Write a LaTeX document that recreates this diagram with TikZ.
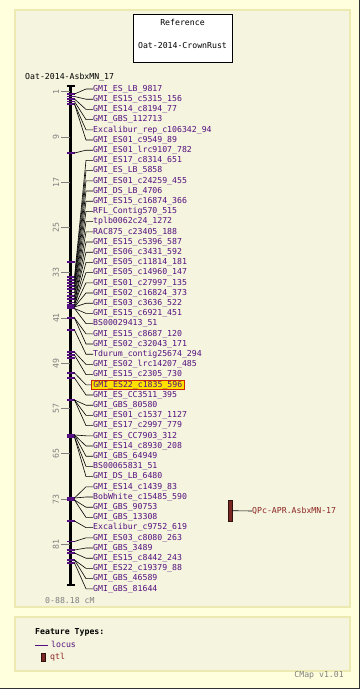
\documentclass[tikz,border=0pt]{standalone}
\usepackage{fontspec}
\setmonofont{DejaVu Sans Mono}
\usepackage{xcolor}
\usepackage{tikz}
\usetikzlibrary{positioning}

\definecolor{pageyellow}{RGB}{255,255,221}
\definecolor{panelbeige}{RGB}{245,244,222}
\definecolor{panelline}{RGB}{236,234,176}
\definecolor{locuscol}{RGB}{84,16,128}
\definecolor{qtlcol}{RGB}{122,40,36}
\definecolor{qtltext}{RGB}{140,36,36}
\definecolor{scalegray}{RGB}{128,128,128}
\definecolor{hilite}{RGB}{255,226,0}
\definecolor{hiliteline}{RGB}{204,40,0}

\newcommand{\mapfont}{\ttfamily\fontsize{8.2}{9}\selectfont}

\begin{document}
\begin{tikzpicture}[x=1pt, y=-1pt, font=\mapfont,
    panel/.style={draw=panelline, line width=1.2pt, fill=panelbeige},
    txt/.style={inner sep=0pt, text height=6pt, text depth=1.5pt},
    lab/.style={txt, anchor=west, text=locuscol},
    hl/.style={draw=hiliteline, fill=hilite, line width=0.8pt, inner xsep=2pt, inner ysep=1pt, xshift=-2pt},
    conn/.style={draw=black, line width=0.6pt},
    mk/.style={draw=locuscol, line width=1.2pt},
    scaletick/.style={draw=scalegray, line width=0.8pt},
    scalelab/.style={text=scalegray, rotate=90, anchor=south, inner sep=1.5pt},
    qtlbar/.style={draw=black!60!qtlcol, fill=qtlcol, line width=0.6pt, minimum width=3.5pt, minimum height=21pt, inner sep=0pt}]
    \useasboundingbox (0,0) rectangle (360,689);

    % Panels
    \fill[pageyellow] (0,0) rectangle (360,689);
    \draw[black!80, line width=1.5pt] (0,688.25) -- (359.25,688.25) -- (359.25,0);
    \draw[panel] (15,10) rectangle (350,607);
    \draw[panel] (15,617) rectangle (350,671);

    % Reference box
    \node[draw=black, fill=white, line width=0.8pt, minimum width=99pt, minimum height=48pt] (refbox) at (182.5,38) {};
    \node[txt] (reftitle) at (182.5,23) {Reference};
    \node[txt] (refmap) at (182.5,46) {Oat-2014-CrownRust};
    \node[txt, anchor=west] (maptitle) at (25,77) {Oat-2014-AsbxMN\_17};

    % Axis and scale
    \draw[black, line width=2.4pt] (70.5,86) -- (70.5,585);
    \draw[black, line width=1.2pt] (66.5,86) -- (74.5,86);
    \draw[black, line width=1.2pt] (66.5,585) -- (74.5,585);
    \draw[scaletick] (69.5,91.7) -- (61,91.7) node[scalelab] {1};
    \draw[scaletick] (69.5,136.9) -- (61,136.9) node[scalelab] {9};
    \draw[scaletick] (69.5,182.2) -- (61,182.2) node[scalelab] {17};
    \draw[scaletick] (69.5,227.5) -- (61,227.5) node[scalelab] {25};
    \draw[scaletick] (69.5,272.7) -- (61,272.7) node[scalelab] {33};
    \draw[scaletick] (69.5,318.0) -- (61,318.0) node[scalelab] {41};
    \draw[scaletick] (69.5,363.3) -- (61,363.3) node[scalelab] {49};
    \draw[scaletick] (69.5,408.6) -- (61,408.6) node[scalelab] {57};
    \draw[scaletick] (69.5,453.8) -- (61,453.8) node[scalelab] {65};
    \draw[scaletick] (69.5,499.1) -- (61,499.1) node[scalelab] {73};
    \draw[scaletick] (69.5,544.4) -- (61,544.4) node[scalelab] {81};
    \node[txt, anchor=west, text=scalegray] (range) at (45,601) {0-88.18 cM};

    % Loci on the axis
    \coordinate (mA) at (74.5,94);
    \coordinate (mB) at (74.5,96.5);
    \coordinate (mC) at (74.5,99);
    \coordinate (mD) at (74.5,101.5);
    \coordinate (mE) at (74.5,104);
    \coordinate (mF) at (74.5,153);
    \coordinate (mG) at (74.5,262);
    \coordinate (mH) at (74.5,277);
    \coordinate (mI) at (74.5,280);
    \coordinate (mJ) at (74.5,283);
    \coordinate (mK) at (74.5,286);
    \coordinate (mL) at (74.5,289);
    \coordinate (mM) at (74.5,292.5);
    \coordinate (mN) at (74.5,296);
    \coordinate (mO) at (74.5,299);
    \coordinate (mP) at (74.5,302.5);
    \coordinate (mQ) at (74.5,305);
    \coordinate (mR) at (74.5,307);
    \coordinate (mS) at (74.5,308.5);
    \coordinate (mT) at (74.5,318);
    \coordinate (mU) at (74.5,330);
    \coordinate (mV) at (74.5,352);
    \coordinate (mW) at (74.5,355);
    \coordinate (mX) at (74.5,358);
    \coordinate (mY) at (74.5,373);
    \coordinate (mZ) at (74.5,378);
    \coordinate (na) at (74.5,400);
    \coordinate (nb) at (74.5,435);
    \coordinate (nc) at (74.5,437);
    \coordinate (nd) at (74.5,498);
    \coordinate (ne) at (74.5,500);
    \coordinate (nf) at (74.5,521);
    \coordinate (ng) at (74.5,541.5);
    \coordinate (nh) at (74.5,550);
    \coordinate (ni) at (74.5,553);
    \coordinate (nj) at (74.5,560);
    \coordinate (nk) at (74.5,563);
    \foreach \m in {mA,mB,mC,mD,mE,mF,mG,mH,mI,mJ,mK,mL,mM,mN,mO,mP,mQ,mR,mS,mT,mU,mV,mW,mX,mY,mZ,na,nb,nc,nd,ne,nf,ng,nh,ni,nj,nk}
        \draw[mk] (\m) -- ++(-8,0);

    % Labels
    \node[lab] (l1) at (93,89) {GMI\_ES\_LB\_9817};
    \node[lab, below=10.2pt of l1.west, anchor=west] (l2) {GMI\_ES15\_c5315\_156};
    \node[lab, below=10.2pt of l2.west, anchor=west] (l3) {GMI\_ES14\_c8194\_77};
    \node[lab, below=10.2pt of l3.west, anchor=west] (l4) {GMI\_GBS\_112713};
    \node[lab, below=10.2pt of l4.west, anchor=west] (l5) {Excalibur\_rep\_c106342\_94};
    \node[lab, below=10.2pt of l5.west, anchor=west] (l6) {GMI\_ES01\_c9549\_89};
    \node[lab, below=10.2pt of l6.west, anchor=west] (l7) {GMI\_ES01\_lrc9107\_782};
    \node[lab, below=10.2pt of l7.west, anchor=west] (l8) {GMI\_ES17\_c8314\_651};
    \node[lab, below=10.2pt of l8.west, anchor=west] (l9) {GMI\_ES\_LB\_5858};
    \node[lab, below=10.2pt of l9.west, anchor=west] (l10) {GMI\_ES01\_c24259\_455};
    \node[lab, below=10.2pt of l10.west, anchor=west] (l11) {GMI\_DS\_LB\_4706};
    \node[lab, below=10.2pt of l11.west, anchor=west] (l12) {GMI\_ES15\_c16874\_366};
    \node[lab, below=10.2pt of l12.west, anchor=west] (l13) {RFL\_Contig570\_515};
    \node[lab, below=10.2pt of l13.west, anchor=west] (l14) {tplb0062c24\_1272};
    \node[lab, below=10.2pt of l14.west, anchor=west] (l15) {RAC875\_c23405\_188};
    \node[lab, below=10.2pt of l15.west, anchor=west] (l16) {GMI\_ES15\_c5396\_587};
    \node[lab, below=10.2pt of l16.west, anchor=west] (l17) {GMI\_ES06\_c3431\_592};
    \node[lab, below=10.2pt of l17.west, anchor=west] (l18) {GMI\_ES05\_c11814\_181};
    \node[lab, below=10.2pt of l18.west, anchor=west] (l19) {GMI\_ES05\_c14960\_147};
    \node[lab, below=10.2pt of l19.west, anchor=west] (l20) {GMI\_ES01\_c27997\_135};
    \node[lab, below=10.2pt of l20.west, anchor=west] (l21) {GMI\_ES02\_c16824\_373};
    \node[lab, below=10.2pt of l21.west, anchor=west] (l22) {GMI\_ES03\_c3636\_522};
    \node[lab, below=10.2pt of l22.west, anchor=west] (l23) {GMI\_ES15\_c6921\_451};
    \node[lab, below=10.2pt of l23.west, anchor=west] (l24) {BS00029413\_51};
    \node[lab, below=10.2pt of l24.west, anchor=west] (l25) {GMI\_ES15\_c8687\_120};
    \node[lab, below=10.2pt of l25.west, anchor=west] (l26) {GMI\_ES02\_c32043\_171};
    \node[lab, below=10.2pt of l26.west, anchor=west] (l27) {Tdurum\_contig25674\_294};
    \node[lab, below=10.2pt of l27.west, anchor=west] (l28) {GMI\_ES02\_lrc14207\_485};
    \node[lab, below=10.2pt of l28.west, anchor=west] (l29) {GMI\_ES15\_c2305\_730};
    \node[lab, hl, below=10.2pt of l29.west, anchor=west] (l30) {GMI\_ES22\_c1835\_596};
    \node[lab, below=10.2pt of l29.west, yshift=-10.2pt, anchor=west] (l31) {GMI\_ES\_CC3511\_395};
    \node[lab, below=10.2pt of l31.west, anchor=west] (l32) {GMI\_GBS\_80580};
    \node[lab, below=10.2pt of l32.west, anchor=west] (l33) {GMI\_ES01\_c1537\_1127};
    \node[lab, below=10.2pt of l33.west, anchor=west] (l34) {GMI\_ES17\_c2997\_779};
    \node[lab, below=10.2pt of l34.west, anchor=west] (l35) {GMI\_ES\_CC7903\_312};
    \node[lab, below=10.2pt of l35.west, anchor=west] (l36) {GMI\_ES14\_c8930\_208};
    \node[lab, below=10.2pt of l36.west, anchor=west] (l37) {GMI\_GBS\_64949};
    \node[lab, below=10.2pt of l37.west, anchor=west] (l38) {BS00065831\_51};
    \node[lab, below=10.2pt of l38.west, anchor=west] (l39) {GMI\_DS\_LB\_6480};
    \node[lab, below=10.2pt of l39.west, anchor=west] (l40) {GMI\_ES14\_c1439\_83};
    \node[lab, below=10.2pt of l40.west, anchor=west] (l41) {BobWhite\_c15485\_590};
    \node[lab, below=10.2pt of l41.west, anchor=west] (l42) {GMI\_GBS\_90753};
    \node[lab, below=10.2pt of l42.west, anchor=west] (l43) {GMI\_GBS\_13308};
    \node[lab, below=10.2pt of l43.west, anchor=west] (l44) {Excalibur\_c9752\_619};
    \node[lab, below=10.2pt of l44.west, anchor=west] (l45) {GMI\_ES03\_c8080\_263};
    \node[lab, below=10.2pt of l45.west, anchor=west] (l46) {GMI\_GBS\_3489};
    \node[lab, below=10.2pt of l46.west, anchor=west] (l47) {GMI\_ES15\_c8442\_243};
    \node[lab, below=10.2pt of l47.west, anchor=west] (l48) {GMI\_ES22\_c19379\_88};
    \node[lab, below=10.2pt of l48.west, anchor=west] (l49) {GMI\_GBS\_46589};
    \node[lab, below=10.2pt of l49.west, anchor=west] (l50) {GMI\_GBS\_81644};

    % Connectors
    \draw[conn] (mA) -- ([xshift=-7pt]l1.west) -- (l1.west);
    \draw[conn] (mB) -- ([xshift=-7pt]l2.west) -- (l2.west);
    \draw[conn] (mC) -- ([xshift=-7pt]l3.west) -- (l3.west);
    \draw[conn] (mD) -- ([xshift=-7pt]l4.west) -- (l4.west);
    \draw[conn] (mE) -- ([xshift=-7pt]l5.west) -- (l5.west);
    \draw[conn] (mE) -- ([xshift=-7pt]l6.west) -- (l6.west);
    \draw[conn] (mF) -- ([xshift=-7pt]l7.west) -- (l7.west);
    \draw[conn] (mH) -- ([xshift=-7pt]l8.west) -- (l8.west);
    \draw[conn] (mI) -- ([xshift=-7pt]l9.west) -- (l9.west);
    \draw[conn] (mJ) -- ([xshift=-7pt]l10.west) -- (l10.west);
    \draw[conn] (mK) -- ([xshift=-7pt]l11.west) -- (l11.west);
    \draw[conn] (mL) -- ([xshift=-7pt]l12.west) -- (l12.west);
    \draw[conn] (mM) -- ([xshift=-7pt]l13.west) -- (l13.west);
    \draw[conn] (mN) -- ([xshift=-7pt]l14.west) -- (l14.west);
    \draw[conn] (mO) -- ([xshift=-7pt]l15.west) -- (l15.west);
    \draw[conn] (mP) -- ([xshift=-7pt]l16.west) -- (l16.west);
    \draw[conn] (mP) -- ([xshift=-7pt]l17.west) -- (l17.west);
    \draw[conn] (mQ) -- ([xshift=-7pt]l18.west) -- (l18.west);
    \draw[conn] (mQ) -- ([xshift=-7pt]l19.west) -- (l19.west);
    \draw[conn] (mR) -- ([xshift=-7pt]l20.west) -- (l20.west);
    \draw[conn] (mR) -- ([xshift=-7pt]l21.west) -- (l21.west);
    \draw[conn] (mR) -- ([xshift=-7pt]l22.west) -- (l22.west);
    \draw[conn] (mS) -- ([xshift=-7pt]l23.west) -- (l23.west);
    \draw[conn] (mS) -- ([xshift=-7pt]l24.west) -- (l24.west);
    \draw[conn] (mT) -- ([xshift=-7pt]l25.west) -- (l25.west);
    \draw[conn] (mT) -- ([xshift=-7pt]l26.west) -- (l26.west);
    \draw[conn] (mU) -- ([xshift=-7pt]l27.west) -- (l27.west);
    \draw[conn] (mV) -- ([xshift=-7pt]l28.west) -- (l28.west);
    \draw[conn] (mW) -- ([xshift=-7pt]l29.west) -- (l29.west);
    \draw[conn] (mY) -- ([xshift=-5pt]l30.west) -- (l30.west);
    \draw[conn] (mZ) -- ([xshift=-7pt]l31.west) -- (l31.west);
    \draw[conn] (na) -- ([xshift=-7pt]l32.west) -- (l32.west);
    \draw[conn] (na) -- ([xshift=-7pt]l33.west) -- (l33.west);
    \draw[conn] (na) -- ([xshift=-7pt]l34.west) -- (l34.west);
    \draw[conn] (nb) -- ([xshift=-7pt]l35.west) -- (l35.west);
    \draw[conn] (nb) -- ([xshift=-7pt]l36.west) -- (l36.west);
    \draw[conn] (nb) -- ([xshift=-7pt]l37.west) -- (l37.west);
    \draw[conn] (nc) -- ([xshift=-7pt]l38.west) -- (l38.west);
    \draw[conn] (nc) -- ([xshift=-7pt]l39.west) -- (l39.west);
    \draw[conn] (nd) -- ([xshift=-7pt]l40.west) -- (l40.west);
    \draw[conn] (nd) -- ([xshift=-7pt]l41.west) -- (l41.west);
    \draw[conn] (ne) -- ([xshift=-7pt]l42.west) -- (l42.west);
    \draw[conn] (ne) -- ([xshift=-7pt]l43.west) -- (l43.west);
    \draw[conn] (nf) -- ([xshift=-7pt]l44.west) -- (l44.west);
    \draw[conn] (ng) -- ([xshift=-7pt]l45.west) -- (l45.west);
    \draw[conn] (nh) -- ([xshift=-7pt]l46.west) -- (l46.west);
    \draw[conn] (ni) -- ([xshift=-7pt]l47.west) -- (l47.west);
    \draw[conn] (nj) -- ([xshift=-7pt]l48.west) -- (l48.west);
    \draw[conn] (nj) -- ([xshift=-7pt]l49.west) -- (l49.west);
    \draw[conn] (nk) -- ([xshift=-7pt]l50.west) -- (l50.west);

    % QTL
    \node[qtlbar] (qtl) at (230.2,510.7) {};
    \node[txt, anchor=west, text=qtltext] (qtllab) at (252,511) {QPc-APR.AsbxMN-17};
    \draw[conn] (qtl.east) -- (qtllab.west);

    % Legend
    \node[txt, anchor=west, font=\mapfont\bfseries] (legtitle) at (35,632) {Feature Types:};
    \node[txt, anchor=west, text=locuscol] (leglocus) at (51,645.5) {locus};
    \draw[locuscol, line width=1pt] ([xshift=-3pt]leglocus.west) -- ++(-13,0);
    \node[qtlbar, minimum height=8pt] (legqtlbar) at (43.5,657) {};
    \node[txt, anchor=west, text=qtltext] (legqtl) at (50,657) {qtl};
    \node[txt, anchor=east, text=scalegray] (version) at (344,675) {CMap v1.01};
\end{tikzpicture}
\end{document}
